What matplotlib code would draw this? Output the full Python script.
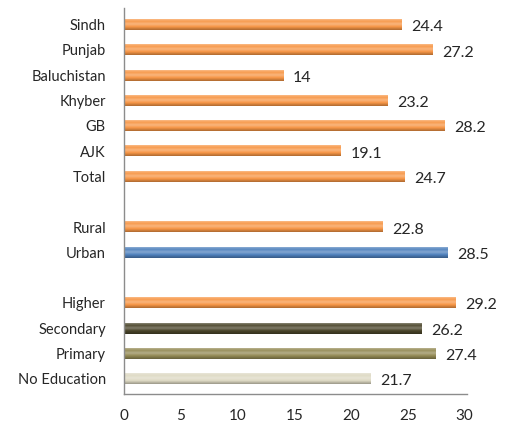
import numpy as np
import matplotlib
matplotlib.use("Agg")
import matplotlib.pyplot as plt
from matplotlib.colors import LinearSegmentedColormap, to_rgb

categories = ["Sindh", "Punjab", "Baluchistan", "Khyber", "GB", "AJK", "Total", "",
              "Rural", "Urban", "",
              "Higher", "Secondary", "Primary", "No Education"]
values = [24.4, 27.2, 14, 23.2, 28.2, 19.1, 24.7, None,
          22.8, 28.5, None,
          29.2, 26.2, 27.4, 21.7]
value_labels = ["24.4", "27.2", "14", "23.2", "28.2", "19.1", "24.7", "",
                "22.8", "28.5", "",
                "29.2", "26.2", "27.4", "21.7"]
orange = "#F79646"
bar_colors = [orange] * 7 + [None, orange, "#4F81BD", None, orange, "#4A452A", "#948A54", "#DDD9C3"]
xticks = [0, 5, 10, 15, 20, 25, 30]

plt.rcParams['font.family'] = ['Lato', 'DejaVu Sans']

fig = plt.figure(figsize=(5.11, 4.25), dpi=100)
ax = fig.add_axes([124/511, (425-394)/425, 343/511, 386/425])

def shade(c, f):
    r = np.array(to_rgb(c))
    if f >= 0:
        return tuple(r + (1 - r) * f)
    return tuple(r * (1 + f))

h = 0.42
for i, (v, c) in enumerate(zip(values, bar_colors)):
    if v is None:
        continue
    cmap = LinearSegmentedColormap.from_list(
        "g", [(0.0, shade(c, 0.35)), (0.2, shade(c, 0.05)), (0.45, shade(c, 0.3)),
              (0.7, shade(c, 0.0)), (1.0, shade(c, -0.3))])
    grad = np.linspace(0, 1, 64).reshape(-1, 1)
    ax.imshow(grad, cmap=cmap, aspect='auto', extent=(0, v, i + h / 2, i - h / 2),
              origin='upper', interpolation='bilinear', zorder=2)
    ax.text(v + 0.85, i + 0.1, value_labels[i], va='center', ha='left',
            fontsize=11.5, color='#262626')

ax.set_xlim(0, 30.2)
ax.set_ylim(14.6, -0.66)
ax.set_yticks(range(len(categories)))
ax.set_yticklabels(categories, fontsize=10.5, color='#262626')
ax.set_xticks(xticks)
ax.set_xticklabels([str(t) for t in xticks], fontsize=11, color='#262626')
ax.tick_params(axis='y', length=0, pad=13)
ax.tick_params(axis='x', length=0, pad=11)
for s in ['top', 'right']:
    ax.spines[s].set_visible(False)
for s in ['left', 'bottom']:
    ax.spines[s].set_color('#8C8C8C')
    ax.spines[s].set_linewidth(1.0)

fig.savefig("out.png", dpi=100)
